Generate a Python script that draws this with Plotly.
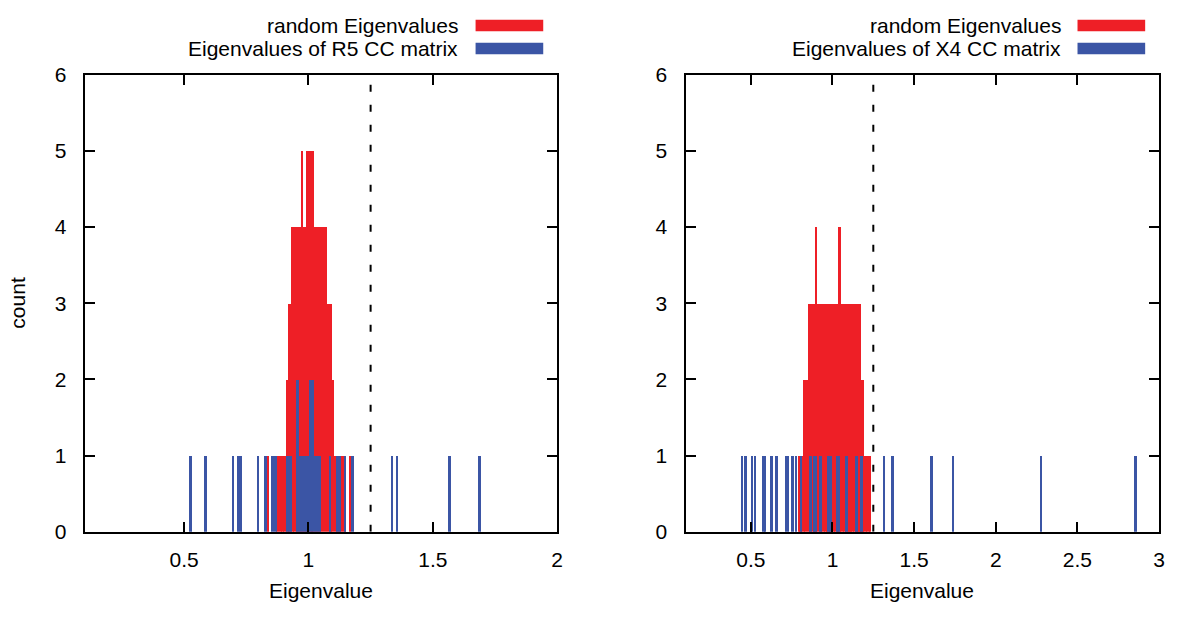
import plotly.graph_objects as go

W, H = 1184, 617

# Marchenko-Pastur upper bound (dashed line)
threshold = 1.25

# ---- Left panel: R5 ----
red_left_x = [0.835, 0.875, 0.885, 0.895, 0.903, 0.913, 0.923, 0.933, 0.943, 0.953,
              0.963, 0.973, 0.983, 0.993, 1.003, 1.013, 1.015, 1.025, 1.035, 1.045,
              1.055, 1.066, 1.077, 1.087, 1.095, 1.105, 1.115, 1.125, 1.135, 1.145, 1.165]
red_left_count = [1, 1, 1, 1, 1, 2, 3, 4, 4, 4,
                  4, 5, 4, 5, 5, 5, 5, 4, 4, 4,
                  4, 4, 3, 3, 2, 1, 1, 1, 1, 1, 1]
blue_left_x = [0.525, 0.585, 0.695, 0.715, 0.725, 0.795, 0.825, 0.855, 0.865, 0.915,
               0.925, 0.955, 0.965, 0.975, 0.985, 0.995, 1.005, 1.015, 1.025, 1.035,
               1.045, 1.085, 1.115, 1.125, 1.145, 1.175, 1.335, 1.355, 1.565, 1.685]
blue_left_count = [1, 1, 1, 1, 1, 1, 1, 1, 1, 1,
                   1, 2, 1, 1, 1, 1, 2, 2, 1, 1,
                   1, 1, 1, 1, 1, 1, 1, 1, 1, 1]

# ---- Right panel: X4 ----
red_right_x = [0.792, 0.802, 0.812, 0.822, 0.832, 0.843, 0.853, 0.863, 0.873, 0.883,
               0.888, 0.896, 0.906, 0.916, 0.926, 0.936, 0.946, 0.956, 0.966, 0.976,
               0.986, 0.996, 1.006, 1.016, 1.026, 1.033, 1.042, 1.052, 1.062, 1.072,
               1.082, 1.092, 1.102, 1.105, 1.113, 1.121, 1.131, 1.141, 1.146, 1.154,
               1.162, 1.166, 1.176, 1.182, 1.192, 1.202, 1.212, 1.222, 1.227]
red_right_count = [1, 1, 1, 2, 2, 2, 3, 3, 3, 3,
                   3, 4, 3, 3, 3, 3, 3, 3, 3, 3,
                   3, 3, 3, 3, 3, 3, 4, 3, 3, 3,
                   3, 3, 3, 3, 2, 3, 3, 3, 3, 2,
                   3, 3, 2, 2, 1, 1, 1, 1, 1]
blue_right_x = [0.445, 0.465, 0.505, 0.525, 0.575, 0.585, 0.625, 0.655, 0.715, 0.725,
                0.755, 0.775, 0.805, 0.865, 0.885, 0.895, 0.925, 0.975, 0.985, 1.025,
                1.035, 1.085, 1.145, 1.175, 1.315, 1.365, 1.605, 1.735, 2.275, 2.855]
blue_right_count = [1] * len(blue_right_x)

legend_red = "random Eigenvalues"
legend_blue_left = "Eigenvalues of R5 CC matrix"
legend_blue_right = "Eigenvalues of X4 CC matrix"

RED = "#EE1F26"
BLUE = "#3B55A5"
FONT = "Liberation Sans, Arial, sans-serif"
FS = 21

fig = go.Figure()
fig.add_trace(go.Bar(x=red_left_x, y=red_left_count, width=0.0105, marker=dict(color=RED, line=dict(width=0)),
                     xaxis="x", yaxis="y", name=legend_red, showlegend=False))
fig.add_trace(go.Bar(x=blue_left_x, y=blue_left_count, width=0.0105, marker=dict(color=BLUE, line=dict(width=0)),
                     xaxis="x", yaxis="y", name=legend_blue_left, showlegend=False))
fig.add_trace(go.Bar(x=red_right_x, y=red_right_count, width=0.0105, marker=dict(color=RED, line=dict(width=0)),
                     xaxis="x2", yaxis="y2", name=legend_red, showlegend=False))
fig.add_trace(go.Bar(x=blue_right_x, y=blue_right_count, width=0.012, marker=dict(color=BLUE, line=dict(width=0)),
                     xaxis="x2", yaxis="y2", name=legend_blue_right, showlegend=False))

# dashed threshold lines
for xa, ya in (("x", "y"), ("x2", "y2")):
    fig.add_trace(go.Scatter(x=[threshold, threshold], y=[0, 6], mode="lines",
                             line=dict(color="black", width=2, dash="7px,13px"),
                             xaxis=xa, yaxis=ya, showlegend=False, hoverinfo="skip"))

px = lambda v: v / W
py = lambda v: 1 - v / H

ydom = [py(540), py(65)]
axis_common = dict(showline=True, linecolor="black", linewidth=2, mirror="allticks",
                   ticks="inside", ticklen=10, tickwidth=1.5, tickcolor="black",
                   showgrid=False, zeroline=False,
                   tickfont=dict(family=FONT, size=FS, color="black"))

fig.update_layout(
    width=W, height=H,
    margin=dict(l=0, r=0, t=0, b=0),
    paper_bgcolor="white", plot_bgcolor="white",
    barmode="overlay", bargap=0,
    showlegend=False,
    xaxis=dict(domain=[px(85), px(560)], range=[0.1, 2], tick0=0, dtick=0.5,
               anchor="y", ticklabelstandoff=8, **axis_common),
    yaxis=dict(domain=ydom, range=[0, 6], dtick=1, anchor="x", ticklabelstandoff=12, **axis_common),
    xaxis2=dict(domain=[px(689), px(1165)], range=[0.1, 3], tick0=0, dtick=0.5,
                anchor="y2", ticklabelstandoff=8, **axis_common),
    yaxis2=dict(domain=ydom, range=[0, 6], dtick=1, anchor="x2", ticklabelstandoff=12, **axis_common),
)

ann_font = dict(family=FONT, size=FS, color="black")
annotations = [
    dict(text="Eigenvalue", x=px(322.5), y=py(601), xref="paper", yref="paper",
         showarrow=False, font=ann_font, xanchor="center", yanchor="middle"),
    dict(text="Eigenvalue", x=px(927), y=py(601), xref="paper", yref="paper",
         showarrow=False, font=ann_font, xanchor="center", yanchor="middle"),
    dict(text="count", x=px(18), y=py(302), xref="paper", yref="paper", textangle=-90,
         showarrow=False, font=ann_font, xanchor="center", yanchor="middle"),
]
shapes = []
for text_right, sw_l, sw_r, blue_label in ((462, 478, 546, legend_blue_left),
                                           (1068, 1083, 1151, legend_blue_right)):
    for label, color, yc in ((legend_red, RED, 14), (blue_label, BLUE, 38)):
        annotations.append(dict(text=label, x=px(text_right), y=py(yc), xref="paper", yref="paper",
                                showarrow=False, font=ann_font, xanchor="right", yanchor="middle"))
        shapes.append(dict(type="rect", xref="paper", yref="paper",
                           x0=px(sw_l), x1=px(sw_r), y0=py(yc + 6), y1=py(yc - 6),
                           fillcolor=color, line=dict(width=0)))
fig.update_layout(annotations=annotations, shapes=shapes)

fig.write_html("out.html")
